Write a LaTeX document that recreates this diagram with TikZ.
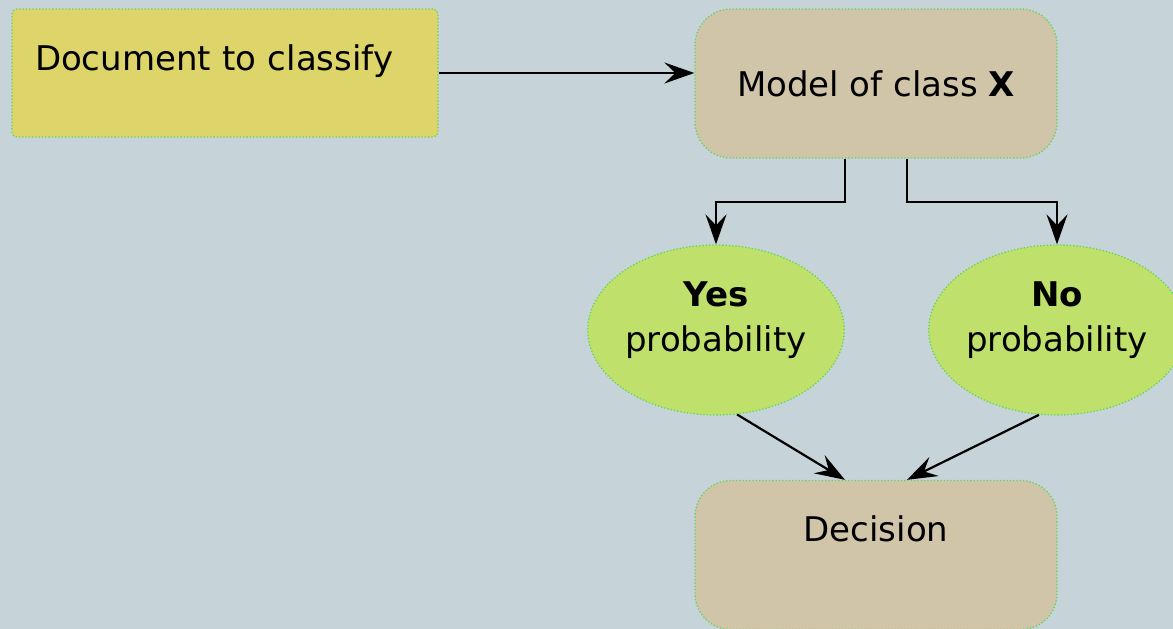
\documentclass[tikz,border=0pt]{standalone}
\usepackage{fontspec}
\setmainfont{DejaVu Sans}
\usetikzlibrary{arrows.meta,shapes.geometric,calc}
\definecolor{bgc}{HTML}{C6D3D9}
\definecolor{docc}{HTML}{DDD46A}
\definecolor{modc}{HTML}{D0C4A9}
\definecolor{elc}{HTML}{BFE06A}
\definecolor{bordc}{HTML}{5FD85A}
\tikzset{
  base/.style={draw=bordc, dotted, line width=1.3pt, inner sep=0pt,
    font=\fontsize{34}{45}\selectfont, text=black},
  docbox/.style={base, fill=docc, rounded corners=5pt, minimum width=426pt,
    minimum height=128pt, text width=380pt, inner xsep=23pt, align=left, text depth=30pt},
  modbox/.style={base, fill=modc, rounded corners=36pt, minimum width=362pt, minimum height=149pt},
  probel/.style={base, ellipse, fill=elc, minimum width=256pt, minimum height=170pt, align=center, text depth=26pt},
  conn/.style={draw=black, solid, line width=2.2pt, -{Stealth[length=30pt,width=21pt,inset=11pt]}}
}
\begin{document}
\begin{tikzpicture}[x=1pt,y=-1pt]
\fill[bgc] (0,0) rectangle (1173,629);
\useasboundingbox (0,0) rectangle (1173,629);
\node[docbox] (doc) at (225,73) {Document to classify};
\node[modbox] (model) at (876,83.5) {Model of class \textbf{X}};
\node[probel] (yes) at (716,330) {\textbf{Yes}\\probability};
\node[probel] (no) at (1057,330) {\textbf{No}\\probability};
\node[modbox, text depth=52pt] (dec) at (876,555) {Decision};
\draw[conn] (doc.east) -- (doc.east -| model.west);
\draw[conn] ([xshift=-31pt]model.south) -- ++(0,43) -| (yes.north);
\draw[conn] ([xshift=31pt]model.south) -- ++(0,43) -| (no.north);
\draw[conn] (yes.-76) -- ([xshift=-31pt]dec.north);
\draw[conn] (no.-102) -- ([xshift=31pt]dec.north);
\end{tikzpicture}
\end{document}
